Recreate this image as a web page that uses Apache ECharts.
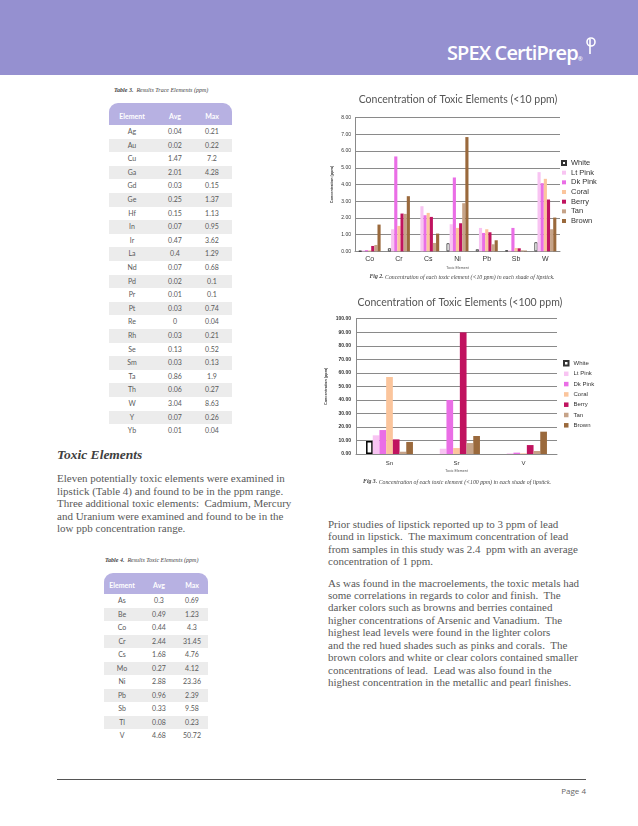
<!DOCTYPE html>
<html><head><meta charset="utf-8">
<script src="https://cdn.jsdelivr.net/npm/echarts@6/dist/echarts.min.js"></script>
<style>
html,body{margin:0;padding:0;background:#fff;}
#page{position:relative;width:638px;height:826px;overflow:hidden;background:#fff;}
.abs{position:absolute;white-space:pre;}
#band{position:absolute;left:0;top:0;width:638px;height:75px;background:#9590d0;}
#logo{position:absolute;left:447px;top:37px;font-family:"Open Sans",sans-serif;font-weight:600;font-size:20px;color:#fff;letter-spacing:-0.9px;line-height:26px;}
#logo .reg{font-size:6px;vertical-align:-1px;letter-spacing:0;}
.cap{font-family:"Liberation Serif",serif;font-style:italic;font-size:6px;color:#444;}
.cap b{font-weight:bold;}
.tbl{position:absolute;}
.thead{position:absolute;left:0;background:#b7b1e2;border-radius:9px 9px 0 0;}
.cell{position:absolute;text-align:center;font-family:"Lato",sans-serif;font-size:7px;color:#5a5a5a;width:40px;}
.hcell{color:#fff;font-weight:bold;}
.row{position:absolute;left:0;}
.grey{background:#ececec;}
.body{font-family:"Liberation Serif",serif;font-size:11px;color:#595959;}
#heading{left:57px;top:447px;font-family:"Liberation Serif",serif;font-weight:bold;font-style:italic;font-size:13.5px;color:#404040;}
#footline{position:absolute;left:57px;top:779px;width:529px;height:1px;background:#555;}
#pageno{position:absolute;right:52px;top:785px;font-family:"Open Sans",sans-serif;font-size:8px;color:#666;}
#chart{position:absolute;left:0;top:0;width:638px;height:826px;}
</style></head><body>
<div id="page">
  <div id="band"></div>
  <div id="logo">SPEX CertiPrep<span class="reg">®</span><svg width="14" height="18" viewBox="0 0 14 18" style="vertical-align:5px;margin-left:1px"><circle cx="7" cy="5" r="4" fill="none" stroke="#fff" stroke-width="1.6"/><line x1="6" y1="2" x2="6" y2="17" stroke="#fff" stroke-width="1.6"/></svg></div>

  <div class="abs cap" style="left:114px;top:87px;"><b>Table 3.</b>  Results Trace Elements (ppm)</div>
  <div id="t3" class="tbl"></div>

  <div id="heading" class="abs">Toxic Elements</div>
  <div class="abs body" style="left:57px;top:472px;line-height:12.5px;">Eleven potentially toxic elements were examined in
lipstick (Table 4) and found to be in the ppm range.
Three additional toxic elements:  Cadmium, Mercury
and Uranium were examined and found to be in the
low ppb concentration range.</div>

  <div class="abs cap" style="left:105px;top:557px;"><b>Table 4.</b>  Results Toxic Elements (ppm)</div>
  <div id="t4" class="tbl"></div>

  <div class="abs body" style="left:328px;top:517.8px;line-height:12.45px;">Prior studies of lipstick reported up to 3 ppm of lead
found in lipstick.  The maximum concentration of lead
from samples in this study was 2.4  ppm with an average
concentration of 1 ppm.</div>
  <div class="abs body" style="left:328px;top:576.5px;line-height:12.45px;">As was found in the macroelements, the toxic metals had
some correlations in regards to color and finish.  The
darker colors such as browns and berries contained
higher concentrations of Arsenic and Vanadium.  The
highest lead levels were found in the lighter colors
and the red hued shades such as pinks and corals.  The
brown colors and white or clear colors contained smaller
concentrations of lead.  Lead was also found in the
highest concentration in the metallic and pearl finishes.</div>

  <div id="footline"></div>
  <div id="pageno">Page 4</div>
  <div id="chart"></div>
</div>
<script>
// ---- Table data ----
const t3Elements = ['Ag','Au','Cu','Ga','Gd','Ge','Hf','In','Ir','La','Nd','Pd','Pr','Pt','Re','Rh','Se','Sm','Ta','Th','W','Y','Yb'];
const t3Avg = ['0.04','0.02','1.47','2.01','0.03','0.25','0.15','0.07','0.47','0.4','0.07','0.02','0.01','0.03','0','0.03','0.13','0.03','0.86','0.06','3.04','0.07','0.01'];
const t3Max = ['0.21','0.22','7.2','4.28','0.15','1.37','1.13','0.95','3.62','1.29','0.68','0.1','0.1','0.74','0.04','0.21','0.52','0.13','1.9','0.27','8.63','0.26','0.04'];
const t4Elements = ['As','Be','Co','Cr','Cs','Mo','Ni','Pb','Sb','Tl','V'];
const t4Avg = ['0.3','0.49','0.44','2.44','1.68','0.27','2.88','0.96','0.33','0.08','4.68'];
const t4Max = ['0.69','1.23','4.3','31.45','4.76','4.12','23.36','2.39','9.58','0.23','50.72'];
const tableHeader = ['Element','Avg','Max'];

// ---- Chart data ----
const shades = ['White','Lt Pink','Dk Pink','Coral','Berry','Tan','Brown'];
const shadeColors = ['#ffffff','#f8c4f2','#ea6ee6','#fbc59c','#c0135f','#c6a388','#9a693c'];
const lowElements = ['Co','Cr','Cs','Ni','Pb','Sb','W'];
const lowTicks = [0,1,2,3,4,5,6,7,8];
const lowWhite  = [0.02, 0.18, 0.00, 0.48, 0.12, 0.06, 0.54];
const lowLtPink = [0.05, 1.32, 2.70, 1.62, 1.40, 0.05, 4.74];
const lowDkPink = [0.07, 5.68, 2.16, 4.42, 1.10, 1.40, 4.08];
const lowCoral  = [0.06, 1.52, 2.30, 1.40, 1.32, 0.20, 4.34];
const lowBerry  = [0.32, 2.26, 2.06, 1.68, 1.14, 0.18, 3.10];
const lowTan    = [0.38, 2.24, 0.50, 2.88, 0.42, 0.06, 1.32];
const lowBrown  = [1.60, 3.30, 1.06, 6.84, 0.66, 0.04, 2.02];
const highElements = ['Sn','Sr','V'];
const highWhite  = [9.6, 0, 0];
const highLtPink = [13.8, 3.9, 0.5];
const highDkPink = [17.7, 39.9, 1.0];
const highCoral  = [56.9, 4.4, 0.5];
const highBerry  = [10.8, 89.9, 6.6];
const highTan    = [1.7, 8.1, 2.2];
const highBrown  = [8.9, 13.3, 16.5];

// ---- build tables ----
function buildTable(id, left, top, width, headH, rowH, centers, elems, avg, max) {
  const t = document.getElementById(id);
  t.style.left = left + 'px'; t.style.top = top + 'px'; t.style.width = width + 'px';
  const h = document.createElement('div');
  h.className = 'thead'; h.style.top = '0px'; h.style.width = width + 'px'; h.style.height = headH + 'px';
  t.appendChild(h);
  tableHeader.forEach((txt, i) => {
    const c = document.createElement('div');
    c.className = 'cell hcell'; c.textContent = txt;
    c.style.left = (centers[i] - 20) + 'px'; c.style.top = (headH - 13) + 'px'; c.style.lineHeight = '9px';
    t.appendChild(c);
  });
  elems.forEach((e, r) => {
    const rt = headH + r * rowH;
    const row = document.createElement('div');
    row.className = 'row' + (r % 2 === 1 ? ' grey' : '');
    row.style.top = rt + 'px'; row.style.width = width + 'px'; row.style.height = rowH + 'px';
    t.appendChild(row);
    [e, avg[r], max[r]].forEach((txt, i) => {
      const c = document.createElement('div');
      c.className = 'cell'; c.textContent = txt;
      c.style.left = (centers[i] - 20) + 'px'; c.style.top = rt + 'px';
      c.style.lineHeight = rowH + 'px';
      t.appendChild(c);
    });
  });
}
buildTable('t3', 109, 103, 123, 22, 13.6, [23, 66, 103], t3Elements, t3Avg, t3Max);
buildTable('t4', 104, 573, 104, 21, 13.5, [18, 55, 88], t4Elements, t4Avg, t4Max);

// ---- chart ----
const chart = echarts.init(document.getElementById('chart'), null, {renderer: 'canvas'});
const lowSets = [lowWhite, lowLtPink, lowDkPink, lowCoral, lowBerry, lowTan, lowBrown];
const highSets = [highWhite, highLtPink, highDkPink, highCoral, highBerry, highTan, highBrown];
// zero values get no outline so nothing is drawn for them
const toItems = arr => arr.map(v => v === 0 ? {value: 0, itemStyle: {borderWidth: 0}} : v);
const series = [];
shades.forEach((s, i) => {
  series.push({
    name: s, type: 'bar', xAxisIndex: 0, yAxisIndex: 0, data: toItems(lowSets[i]),
    barGap: '0%', barCategoryGap: '25%',
    itemStyle: {color: shadeColors[i], borderColor: i === 0 ? '#333' : shadeColors[i], borderWidth: i === 0 ? 0.8 : 0},
    emphasis: {disabled: true}
  });
});
shades.forEach((s, i) => {
  series.push({
    name: s, type: 'bar', xAxisIndex: 1, yAxisIndex: 1, data: toItems(highSets[i]),
    barGap: '0%', barCategoryGap: '30%',
    itemStyle: {color: shadeColors[i], borderColor: i === 0 ? '#000' : shadeColors[i], borderWidth: i === 0 ? 1.5 : 0},
    emphasis: {disabled: true}
  });
});
const axisFont = 'Liberation Sans';
const gridLine = '#8a8a8a';
chart.setOption({
  animation: false,
  title: [
    {text: 'Concentration of Toxic Elements (<10 ppm)', left: 458, top: 94, textAlign: 'center', padding: 0,
     textStyle: {fontFamily: 'Lato', fontSize: 10.5, fontWeight: 'normal', color: '#555'}},
    {text: 'Concentration of Toxic Elements (<100 ppm)', left: 460, top: 297, textAlign: 'center', padding: 0,
     textStyle: {fontFamily: 'Lato', fontSize: 10.5, fontWeight: 'normal', color: '#555'}},
    {text: '{b|Fig 2.} Concentration of each toxic element (<10 ppm) in each shade of lipstick.', left: 462, top: 274, textAlign: 'center', padding: 0,
     textStyle: {fontFamily: 'Liberation Serif', fontStyle: 'italic', fontSize: 5.8, fontWeight: 'normal', color: '#444',
       rich: {b: {fontFamily: 'Liberation Serif', fontStyle: 'italic', fontWeight: 'bold', fontSize: 5.8, color: '#444'}}}},
    {text: '{b|Fig 3.} Concentration of each toxic element (<100 ppm) in each shade of lipstick.', left: 457, top: 479, textAlign: 'center', padding: 0,
     textStyle: {fontFamily: 'Liberation Serif', fontStyle: 'italic', fontSize: 5.8, fontWeight: 'normal', color: '#444',
       rich: {b: {fontFamily: 'Liberation Serif', fontStyle: 'italic', fontWeight: 'bold', fontSize: 5.8, color: '#444'}}}}
  ],
  legend: [
    {data: shades, orient: 'vertical', left: 561, top: 159, itemWidth: 4, itemHeight: 4, itemGap: 1.67, padding: 0,
     icon: 'rect', selectedMode: false, textStyle: {fontFamily: axisFont, fontSize: 7.5, lineHeight: 8, color: '#333'}},
    {data: shades, orient: 'vertical', left: 563, top: 360, itemWidth: 4.5, itemHeight: 4.5, itemGap: 4.3, padding: 0,
     icon: 'rect', selectedMode: false, textStyle: {fontFamily: axisFont, fontSize: 6, lineHeight: 6, color: '#333'}}
  ],
  grid: [
    {left: 355, top: 117.7, width: 205, height: 133.6, containLabel: false},
    {left: 356, top: 318.7, width: 201, height: 135.3, containLabel: false}
  ],
  xAxis: [
    {type: 'category', gridIndex: 0, data: lowElements,
     axisLine: {lineStyle: {color: gridLine, width: 1}}, axisTick: {show: false},
     axisLabel: {fontFamily: axisFont, fontSize: 7, color: '#333', margin: 4},
     name: 'Toxic Element', nameLocation: 'middle', nameGap: 15,
     nameTextStyle: {fontFamily: axisFont, fontSize: 3.6, color: '#555'}},
    {type: 'category', gridIndex: 1, data: highElements,
     axisLine: {lineStyle: {color: gridLine, width: 1}}, axisTick: {show: false},
     axisLabel: {fontFamily: axisFont, fontSize: 6, color: '#333', margin: 6},
     name: 'Toxic Element', nameLocation: 'middle', nameGap: 15,
     nameTextStyle: {fontFamily: axisFont, fontSize: 3.6, color: '#555'}}
  ],
  yAxis: [
    {type: 'value', gridIndex: 0, min: lowTicks[0], max: lowTicks[lowTicks.length - 1], interval: 1,
     axisLine: {show: true, lineStyle: {color: gridLine, width: 1}}, axisTick: {show: false},
     splitLine: {lineStyle: {color: gridLine, width: 1}},
     axisLabel: {fontFamily: axisFont, fontSize: 5, color: '#333', margin: 4, formatter: v => v.toFixed(2)},
     name: 'Concentration (ppm)', nameLocation: 'middle', nameGap: 21, nameRotate: 90,
     nameTextStyle: {fontFamily: axisFont, fontSize: 3.8, fontWeight: 'bold', color: '#444'}},
    {type: 'value', gridIndex: 1, min: 0, max: 100, interval: 10,
     axisLine: {show: true, lineStyle: {color: gridLine, width: 1}}, axisTick: {show: false},
     splitLine: {lineStyle: {color: gridLine, width: 1}},
     axisLabel: {fontFamily: axisFont, fontSize: 5, fontWeight: 'bold', color: '#333', margin: 5, formatter: v => v.toFixed(2)},
     name: 'Concentration (ppm)', nameLocation: 'middle', nameGap: 28, nameRotate: 90,
     nameTextStyle: {fontFamily: axisFont, fontSize: 3.8, fontWeight: 'bold', color: '#444'}}
  ],
  series: series
});
</script>
</body></html>
